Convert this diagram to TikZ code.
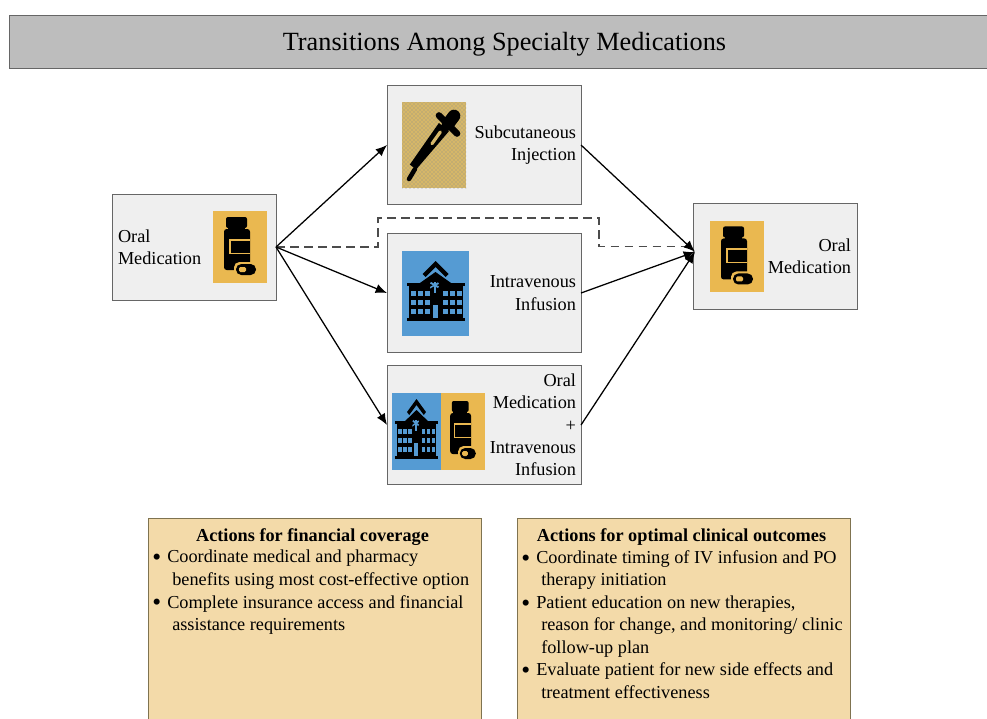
\documentclass[tikz,border=0pt]{standalone}
\usepackage{fontspec}
\setmainfont{Liberation Serif}
\usetikzlibrary{arrows.meta,patterns,positioning,calc}
\definecolor{boxcol}{HTML}{EFEFEF}
\definecolor{linecol}{HTML}{666666}
\definecolor{titlecol}{HTML}{BDBDBD}
\definecolor{pillcol}{HTML}{EAB850}
\definecolor{hospcol}{HTML}{559BD3}
\definecolor{dropcol}{HTML}{D6B768}
\definecolor{actioncol}{HTML}{F3DAA9}
\definecolor{actionline}{HTML}{7F7350}
\tikzstyle{flow} = [-{Latex[length=8.5pt,width=7pt]},black,line width=.95pt]
\tikzstyle{switch} = [black!70,line width=1pt,dash pattern=on 6.5pt off 4pt]
\newcommand{\actionbullet}{\makebox[11.25pt][l]{\fontsize{19}{16.9}\selectfont\raisebox{-2.2pt}{\textbullet}}}
\tikzset{
  basic box/.style = {
    shape = rectangle,
    draw = linecol,
    fill = boxcol,
    outer sep = 0pt,
    font = \fontsize{13.7}{16.7}\selectfont,
    },
  wide box/.style = {
    basic box,
    minimum width = 145.5pt,
    minimum height = 89.25pt,
    text width = 138pt,
    inner sep = 0pt,
    align = right,
    },
  oral box/.style = {
    basic box,
    minimum width = 123pt,
    minimum height = 79.5pt,
    text width = 114pt,
    inner sep = 0pt,
    align = #1,
    },
  icon box/.style n args = {3}{
    shape = rectangle,
    fill = #1,
    outer sep = 0pt,
    inner sep = 0pt,
    minimum width = #2,
    minimum height = #3,
    },
  action box/.style = {
    shape = rectangle,
    draw = actionline,
    fill = actioncol,
    outer sep = 0pt,
    minimum width = 249.75pt,
    minimum height = 156pt,
    },
  action text/.style = {
    inner sep = 0pt,
    align = left,
    font = \fontsize{13.7}{16.9}\selectfont,
    },
  action head/.style = {
    action text,
    xshift = -1.5pt,
    font = \fontsize{13.7}{16.9}\selectfont\bfseries,
    },
  pics/bottle/.style = {
    code = {
      \fill[black,rounded corners=1.5pt] (-14,-30) rectangle (7,-19);
      \fill[black] (-12,-20) rectangle (5,-16);
      \fill[black,rounded corners=2pt] (-16,-18) rectangle (10,23);
      \fill[pillcol] (-11,-8) rectangle (10,7);
      \fill[black] (-9.5,-6.5) rectangle (10,5.5);
      \fill[pillcol,rounded corners=4pt] (-6,15) rectangle (18,30);
      \fill[black,rounded corners=4pt] (-4,17) rectangle (16,28);
      \fill[pillcol,rounded corners=1pt] (-1,20) rectangle (6,25);
    }
  },
  pics/hospital/.style = {
    code = {
      % roof
      \fill[black] (0,-32) -- (-13,-19) -- (-10,-16) -- (0,-26) -- (10,-16) -- (13,-19) -- cycle;
      \fill[black] (0,-21) -- (-17,-9) -- (17,-9) -- cycle;
      \fill[black] (-29,-10) rectangle (29,-7);
      \fill[black] (-27,-7) rectangle (27,27);
      \fill[black] (-29,25) rectangle (29,28);
      \fill[hospcol] (-1,-7) ++(-1,-4) rectangle ++(2,11);
      \fill[hospcol] (-1,-7) ++(-4.5,-2.5) -- ++(1,-1.6) -- ++(8,4.6) -- ++(-1,1.6) -- cycle;
      \fill[hospcol] (-1,-7) ++(-4.5,2.5) -- ++(-0,-1.6) -- ++(8,-4.6) -- ++(1,1.6) -- cycle;
      % windows
      \foreach \col in {-25,-18,-11,7,14,21} {
        \foreach \row in {-2,7,15.5} {
          \fill[hospcol] (\col,\row) rectangle ++(5,5);
        }
      }
      \fill[hospcol] (-3,12) rectangle (2,25);
    }
  },
  pics/dropper/.style = {
    code = {
      \draw[black,line width=3.4pt,line cap=round] (-25,34) -- (-19,24);
      \fill[black] (-24.2,19.6) -- (-17.8,24.4) -- (15.1,-14) -- (4.9,-22) -- cycle;
      \draw[black,line width=5pt,line cap=round] (5,-29.5) -- (23,-11.5);
      \draw[black,line width=9.5pt,line cap=round] (14,-21) -- (20,-29);
      \draw[dropcol,line width=2.4pt,line cap=round] (-2,-1.3) -- (6.3,-13);
    }
  },
}

\begin{document}
\begin{tikzpicture}[x=.75pt,y=-.75pt]
    \useasboundingbox (0,0) rectangle (987,718);

    % title
    \node[basic box,fill=titlecol,minimum width=733.5pt,minimum height=39.75pt,
      text height=17pt,text depth=3.5pt,
      font=\fontsize{19.7}{24}\selectfont] (title) at (498,41.5) {\hspace*{9.75pt}Transitions Among Specialty Medications};

    % boxes
    \node[oral box=left] (orall) at (194,247) {Oral\\Medication};
    \node[wide box,right=83.25pt of orall,yshift=-34.5pt] (iv) {Intravenous\\Infusion};
    \node[wide box,above=21.75pt of iv] (subq) {Subcutaneous\\Injection};
    \node[wide box,below=9.75pt of iv] (combo) {Oral\\Medication\\+\\Intravenous\\Infusion};
    \node[oral box=right,right=84pt of iv,yshift=27.4pt] (oralr) {Oral\\Medication};

    % icons
    \node[icon box={pillcol}{40.5pt}{54pt},left=6.75pt of orall.east] (iconl) {};
    \pic at (iconl.center) {bottle};

    \node[icon box={dropcol}{48pt}{64.5pt},right=11.25pt of subq.west] (icons) {};
    \fill[pattern=crosshatch dots,pattern color=black!45] (icons.south west) rectangle (icons.north east);
    \pic at (icons.center) {dropper};

    \node[icon box={hospcol}{50.25pt}{63.75pt},right=11.25pt of iv.west] (iconv) {};
    \pic at (iconv.center) {hospital};

    \node[icon box={hospcol}{36.75pt}{57.75pt},right=3.75pt of combo.west,yshift=-4.5pt] (iconch) {};
    \pic[xscale=.73] at (iconch.center) {hospital};
    \node[icon box={pillcol}{33pt}{57.75pt},right=0pt of iconch] (iconcb) {};
    \pic[xscale=.8] at (iconcb.center) {bottle};

    \node[icon box={pillcol}{40.5pt}{53.25pt},right=12.75pt of oralr.west] (iconr) {};
    \pic at (iconr.center) {bottle};

    % Paths
    \coordinate (merge) at ($(oralr.west)+(1.5pt,3.5pt)$);
    \coordinate (mergetop) at ($(oralr.west)+(0pt,7.5pt)$);
    \coordinate (dashl) at (378,218);
    \coordinate (dashr) at (599,218);

    \draw[switch] (orall.east) -| (dashl) -- (dashr) |- (mergetop);
    \path[flow] (orall.east) edge (subq.west);
    \path[flow] (orall.east) edge (iv.west);
    \path[flow] (orall.east) edge (combo.west);
    \path[flow] (subq.east) edge (merge);
    \path[flow] (iv.east) edge (merge);
    \path[flow] (combo.east) edge (merge);

    % actions
    \node[action box,anchor=north west] (finance) at (148,518) {};
    \node[action box,anchor=north west] (clinical) at (517,518) {};

    \node[action head,below=7.5pt of finance.north] (financehead) {Actions for financial coverage};
    \node[action text,anchor=north west] (financelist) at (152,550) {%
      \actionbullet Coordinate medical and pharmacy\\
      \hspace*{15pt}benefits using most cost-effective option\\
      \actionbullet Complete insurance access and financial\\
      \hspace*{15pt}assistance requirements};

    \node[action head,below=7.5pt of clinical.north] (clinicalhead) {Actions for optimal clinical outcomes};
    \node[action text,anchor=north west] (clinicallist) at (521,550) {%
      \actionbullet Coordinate timing of IV infusion and PO\\
      \hspace*{15pt}therapy initiation\\
      \actionbullet Patient education on new therapies,\\
      \hspace*{15pt}reason for change, and monitoring/ clinic\\
      \hspace*{15pt}follow-up plan\\
      \actionbullet Evaluate patient for new side effects and\\
      \hspace*{15pt}treatment effectiveness};
\end{tikzpicture}
\end{document}
